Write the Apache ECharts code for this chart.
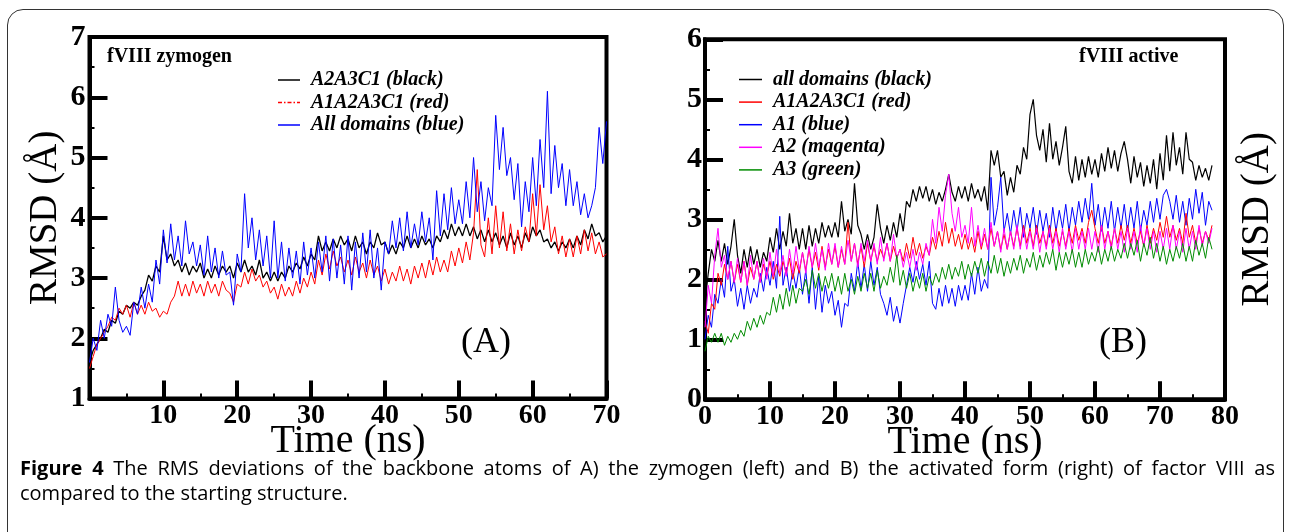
<!DOCTYPE html>
<html>
<head>
<meta charset="utf-8">
<script src="https://cdn.jsdelivr.net/npm/echarts@6/dist/echarts.min.js"></script>
<style>
  body { margin: 0; background: #fff; }
  #wrap { position: relative; width: 1290px; height: 532px; overflow: hidden; background: #fff; }
  #frame { position: absolute; left: 7px; top: 9px; width: 1277px; height: 570px;
           border: 1.5px solid #333; border-radius: 16px; box-sizing: border-box; }
  #chart { position: absolute; left: 0; top: 0; width: 1290px; height: 532px; }
  .cap { position: absolute; left: 20px; width: 1255px; font-family: "Open Sans", sans-serif;
         font-size: 20px; line-height: 25px; color: #000; }
  #cap1 { top: 455px; text-align: justify; text-align-last: justify; }
  #cap2 { top: 480px; }
</style>
</head>
<body>
<div id="wrap">
  <div id="frame"></div>
  <div id="chart"></div>
  <div class="cap" id="cap1"><b>Figure 4</b> The RMS deviations of the backbone atoms of A) the zymogen (left) and B) the activated form (right) of factor VIII as</div>
  <div class="cap" id="cap2">compared to the starting structure.</div>
</div>
<script>
// sampling step of every series (ns)
const stepNs = 0.5;

// ---- panel A : fVIII zymogen, t = 0..70 ns ----
const zymBlack = [
  1.6,1.8,1.9,2.0,2.15,2.1,2.3,2.25,2.45,2.4,
  2.55,2.5,2.6,2.55,2.7,2.8,3.05,2.95,3.2,3.1,
  3.7,3.3,3.4,3.2,3.3,3.1,3.25,3.05,3.2,3.1,
  3.25,3.0,3.15,3.0,3.2,3.05,3.2,3.1,3.2,3.0,
  3.25,3.1,3.3,3.1,3.2,3.05,3.3,3.0,3.1,2.95,
  3.1,2.95,3.1,3.0,3.2,3.1,3.25,3.15,3.35,3.2,
  3.4,3.3,3.7,3.45,3.6,3.45,3.65,3.5,3.7,3.55,
  3.65,3.45,3.7,3.5,3.6,3.4,3.6,3.5,3.75,3.55,
  3.6,3.4,3.55,3.4,3.6,3.5,3.7,3.5,3.65,3.5,
  3.7,3.55,3.65,3.5,3.7,3.6,3.8,3.65,3.9,3.7,
  3.85,3.7,3.9,3.7,3.85,3.65,3.8,3.6,3.8,3.6,
  3.75,3.55,3.7,3.5,3.75,3.55,3.7,3.5,3.75,3.6,
  3.85,3.7,3.8,3.6,3.65,3.5,3.6,3.45,3.6,3.5,
  3.65,3.5,3.7,3.55,3.8,3.65,3.9,3.7,3.75,3.6,
  3.7
];
const zymRed = [
  1.5,1.7,1.9,2.0,2.1,2.2,2.35,2.3,2.5,2.4,
  2.55,2.35,2.6,2.4,2.55,2.4,2.6,2.45,2.5,2.35,
  2.45,2.4,2.6,2.7,2.95,2.7,2.9,2.7,2.95,2.75,
  2.9,2.7,2.95,2.75,2.9,2.7,2.95,2.8,2.75,2.6,
  2.9,2.85,3.1,2.9,3.15,2.95,3.05,2.85,2.95,2.75,
  2.85,2.65,2.9,2.7,2.85,2.7,2.95,2.75,3.0,2.85,
  3.1,2.9,3.3,3.05,3.4,3.15,3.45,3.2,3.35,3.1,
  3.3,3.05,3.35,3.1,3.25,3.0,3.3,3.05,3.2,2.95,
  3.15,2.9,3.1,2.95,3.2,2.95,3.15,2.9,3.2,3.0,
  3.25,3.0,3.3,3.05,3.35,3.1,3.3,3.1,3.45,3.2,
  3.5,3.25,3.6,3.3,3.75,4.8,3.55,3.35,4.0,3.4,
  4.2,3.5,4.1,3.45,3.9,3.4,3.8,3.45,3.85,3.6,
  4.4,3.7,4.55,3.8,4.2,3.6,3.85,3.4,3.7,3.35,
  3.65,3.35,3.7,3.4,3.8,3.45,3.75,3.4,3.6,3.35,
  3.4
];
const zymBlue = [
  1.6,2.0,1.8,2.3,2.0,2.4,2.2,2.85,2.3,2.1,
  2.2,2.05,2.6,2.4,2.85,2.5,2.9,2.6,3.3,2.9,
  3.8,3.25,3.9,3.3,3.7,3.2,3.95,3.4,3.6,3.2,
  3.55,3.05,3.7,3.1,3.5,3.0,3.45,3.05,3.1,2.55,
  3.4,3.1,4.4,3.5,4.0,3.3,3.8,3.2,3.7,3.0,
  3.95,3.0,3.6,2.95,3.5,3.0,3.45,2.9,3.6,3.05,
  3.5,3.0,3.6,3.1,3.7,2.95,3.65,3.0,3.55,2.9,
  3.7,2.8,3.6,3.0,3.75,3.1,3.8,3.0,3.5,2.8,
  3.6,3.4,3.95,3.5,4.0,3.45,4.1,3.5,3.9,3.55,
  4.1,3.6,4.0,3.3,4.45,3.7,4.4,3.8,4.5,3.9,
  4.3,3.9,4.6,4.0,5.0,4.1,4.6,3.95,4.5,4.2,
  5.7,4.8,5.5,4.7,5.0,4.3,4.9,3.85,4.6,4.1,
  5.0,4.2,5.3,4.5,6.1,4.4,5.2,4.5,4.9,4.2,
  4.8,4.2,4.6,4.05,4.4,4.0,4.2,4.5,5.5,4.9,
  5.6
];

// ---- panel B : fVIII active, t = 0..78 ns ----
const actBlack = [
  1.6,2.1,2.5,2.3,2.65,2.3,2.6,2.25,2.55,3.0,
  2.4,2.1,2.5,2.2,2.55,2.25,2.5,2.2,2.45,2.3,
  2.7,2.45,2.85,2.5,2.8,2.55,3.1,2.6,2.85,2.5,
  2.85,2.5,2.9,2.55,2.85,2.6,2.95,2.7,2.9,2.7,
  2.95,2.7,3.3,2.8,3.0,2.75,3.6,2.9,2.75,2.5,
  2.75,2.5,2.7,3.25,2.85,2.6,2.9,2.65,2.95,2.7,
  3.1,2.8,3.3,3.2,3.5,3.3,3.55,3.35,3.55,3.3,
  3.5,3.25,3.45,3.3,3.5,3.75,3.45,3.3,3.55,3.35,
  3.55,3.3,3.6,3.35,3.5,3.3,3.55,3.15,4.15,3.9,
  4.15,3.7,3.8,3.4,3.7,3.45,3.9,3.75,4.2,4.0,
  4.75,5.0,4.4,4.15,4.5,3.95,4.6,4.0,4.3,3.9,
  4.2,4.55,3.8,3.6,4.05,3.65,4.0,3.7,4.05,3.75,
  4.0,3.7,4.1,3.8,4.2,3.85,4.15,3.8,4.1,4.3,
  4.0,3.6,4.05,3.7,3.95,3.55,3.9,3.6,4.0,3.5,
  4.1,3.65,4.4,3.8,4.45,3.9,4.2,3.75,4.45,4.0,
  3.95,3.65,3.9,3.7,3.85,3.65,3.9
];
const actRed = [
  1.3,1.1,1.6,1.5,2.1,1.9,2.25,2.0,2.3,1.95,
  2.25,1.95,2.3,1.9,2.2,2.0,2.3,1.95,2.25,2.05,
  2.3,2.0,2.25,2.05,2.3,2.1,2.35,2.0,2.3,2.1,
  2.45,2.15,2.5,2.2,2.45,2.15,2.55,2.2,2.5,2.25,
  2.55,2.2,2.5,2.25,2.95,2.3,2.6,2.25,2.55,2.2,
  2.6,2.3,2.55,2.3,2.5,2.35,2.6,2.3,2.55,2.35,
  2.5,2.3,2.6,2.35,2.7,2.4,2.6,2.35,2.55,2.4,
  2.7,2.5,2.8,2.55,2.95,2.6,2.85,2.55,2.75,2.5,
  2.75,2.5,2.7,2.45,2.8,2.5,2.75,2.5,2.85,2.55,
  2.8,2.5,2.75,2.5,2.8,2.55,2.85,2.55,2.9,2.6,
  2.85,2.55,2.9,2.6,2.8,2.55,2.9,2.6,2.85,2.55,
  2.8,2.55,2.85,2.6,2.9,2.65,2.85,2.6,2.95,3.15,
  2.85,2.6,2.9,2.6,2.8,2.55,2.85,2.6,2.9,2.65,
  2.9,2.6,2.85,2.6,2.8,2.55,2.9,2.6,2.85,2.65,
  2.95,2.7,3.05,2.7,2.9,2.65,2.85,2.6,3.1,2.7,
  2.9,2.6,2.85,2.6,2.8,2.65,2.9
];
const actA1 = [
  1.0,1.4,1.2,1.75,1.6,2.0,1.7,2.55,1.8,2.0,
  1.55,1.85,1.5,1.9,1.6,1.85,1.7,2.1,1.8,2.2,
  1.9,2.3,1.85,3.05,1.9,2.2,1.8,2.15,1.85,2.2,
  1.75,2.15,1.6,2.2,1.5,2.05,1.45,1.9,1.6,1.8,
  1.4,1.65,1.2,1.6,1.55,2.1,1.8,2.3,1.85,2.25,
  1.8,2.3,1.9,2.2,1.75,1.6,1.4,1.7,1.3,1.55,
  1.27,1.6,1.9,2.2,1.95,2.3,2.0,2.25,1.9,2.3,
  1.6,1.5,1.85,1.55,1.9,1.6,1.85,1.55,1.9,1.65,
  1.9,1.65,2.1,1.75,2.2,1.8,2.0,1.85,3.7,2.9,
  3.2,3.7,2.8,3.1,2.75,3.15,2.8,3.2,2.7,3.1,
  2.85,3.2,2.75,3.15,2.8,3.1,2.7,3.2,2.8,3.15,
  2.85,3.25,2.8,3.2,2.9,3.3,2.95,3.35,3.0,3.6,
  2.9,3.25,2.8,3.2,2.85,3.3,2.8,3.2,2.85,3.25,
  2.8,3.2,2.85,3.3,2.8,3.15,2.9,3.3,2.95,3.35,
  3.0,3.4,3.5,3.3,3.0,3.4,2.95,3.3,2.9,3.35,
  3.0,3.5,3.1,3.45,2.9,3.3,3.15
];
const actA2 = [
  1.2,1.9,1.6,2.4,2.85,2.2,2.4,2.0,2.3,1.95,
  2.35,1.95,2.3,1.9,2.4,2.0,2.3,1.95,2.35,2.0,
  2.45,2.05,2.5,2.1,2.4,2.05,2.5,2.1,2.55,2.15,
  2.45,2.1,2.55,2.2,2.6,2.2,2.5,2.15,2.6,2.25,
  2.6,2.2,2.55,2.25,2.65,2.3,2.6,2.2,2.6,2.3,
  2.65,2.3,2.6,2.25,2.7,2.3,2.6,2.3,2.75,2.35,
  2.5,2.2,2.45,2.2,2.5,2.15,2.45,2.25,2.6,2.4,
  3.0,2.6,3.2,2.8,3.4,3.75,3.1,2.8,3.2,2.7,
  2.9,2.6,3.2,2.55,2.9,2.55,2.85,2.5,2.95,2.55,
  2.8,2.45,2.85,2.5,2.8,2.5,2.9,2.5,2.85,2.5,
  2.8,2.5,2.85,2.45,2.8,2.5,2.85,2.5,2.8,2.45,
  2.85,2.5,2.8,2.45,2.85,2.5,2.8,2.5,2.85,2.5,
  2.8,2.45,2.9,2.5,2.8,2.5,2.85,2.5,2.8,2.45,
  2.85,2.5,2.8,2.45,2.9,2.55,2.85,2.5,2.8,2.45,
  2.8,2.5,2.85,2.5,2.9,2.5,2.8,2.45,2.85,2.5,
  2.8,2.5,2.9,2.55,2.8,2.6,2.85
];
const actA3 = [
  0.8,1.05,0.95,1.1,0.95,1.1,0.9,1.05,0.95,1.1,
  1.0,1.15,1.05,1.3,1.15,1.35,1.2,1.4,1.25,1.45,
  1.4,1.7,1.45,1.75,1.5,1.85,1.55,1.9,1.6,1.85,
  1.8,2.0,1.75,2.15,1.85,2.1,1.8,2.05,1.85,2.1,
  1.8,2.05,1.75,2.1,1.8,2.0,1.75,2.05,1.8,2.1,
  1.85,2.1,1.8,2.15,1.85,2.05,1.9,2.2,1.95,2.4,
  1.9,2.15,1.85,2.1,1.8,2.05,1.85,2.1,1.8,2.05,
  1.9,2.1,1.95,2.2,2.0,2.25,2.0,2.2,2.05,2.3,
  2.0,2.25,2.05,2.3,2.1,2.35,2.05,2.3,2.1,2.4,
  2.1,2.35,2.05,2.3,2.1,2.35,2.15,2.4,2.1,2.35,
  2.2,2.45,2.15,2.4,2.2,2.45,2.25,2.5,2.15,2.45,
  2.2,2.45,2.25,2.5,2.2,2.45,2.2,2.5,2.25,2.45,
  2.3,2.55,2.25,2.5,2.3,2.55,2.3,2.5,2.35,2.6,
  2.35,2.6,2.4,2.65,2.3,2.6,2.4,2.7,2.35,2.6,
  2.3,2.55,2.25,2.5,2.3,2.55,2.35,2.6,2.3,2.55,
  2.3,2.65,2.4,2.6,2.35,2.7,2.5
];

const serif = '"Liberation Serif", "Times New Roman", serif';

// pair each reading with its time
function pairs(values) {
  return values.map((v, i) => [i * stepNs, v]);
}

function line(name, values, color, xi, yi, z, width) {
  return {
    name: name, type: 'line', xAxisIndex: xi, yAxisIndex: yi,
    data: pairs(values), symbol: 'none', z: z,
    lineStyle: { color: color, width: width || 1 }, itemStyle: { color: color },
    animation: false
  };
}

function xAxisOf(grid, max) {
  return {
    gridIndex: grid, type: 'value', min: 0, max: max, interval: 10,
    name: 'Time (ns)', nameLocation: 'middle', nameGap: 23, nameMoveOverlap: false,
    nameTextStyle: { fontFamily: serif, fontSize: 40, color: '#000' },
    axisLine: { lineStyle: { color: '#000', width: 4 } },
    axisTick: { inside: true, length: 18, lineStyle: { width: 4, color: '#000' } },
    minorTick: { show: true, splitNumber: 2, length: 5, lineStyle: { width: 2, color: '#000' } },
    axisLabel: { fontFamily: serif, fontWeight: 'bold', fontSize: 28, color: '#000', margin: 3,
                 showMinLabel: grid === 1 },
    splitLine: { show: false }
  };
}

function yAxisOf(grid, min, max, margin) {
  return {
    gridIndex: grid, type: 'value', min: min, max: max, interval: 1,
    axisLine: { lineStyle: { color: '#000', width: 4 } },
    axisTick: { inside: true, length: 18, lineStyle: { width: 4, color: '#000' } },
    minorTick: { show: true, splitNumber: 2, length: 5, lineStyle: { width: 2, color: '#000' } },
    axisLabel: { fontFamily: serif, fontWeight: 'bold', fontSize: 30, color: '#000', margin: margin },
    splitLine: { show: false }
  };
}

const rmsdName = {
  name: 'RMSD (Å)', nameLocation: 'middle', nameRotate: 90, nameMoveOverlap: false,
  nameTextStyle: { fontFamily: serif, fontSize: 39, color: '#000' }
};

const legendText = { fontFamily: serif, fontStyle: 'italic', fontWeight: 'bold', fontSize: 20,
                     color: '#000', lineHeight: 20, padding: [0, 0, 0, 6] };
// short dash-dot sample used for the red legend entry of panel A
const dashIcon = 'path://M0,0h4v1.5h-4z M6,0h1.5v1.5h-1.5z M9.5,0h4v1.5h-4z M15.5,0h1.5v1.5h-1.5z M19,0h3v1.5h-3z';

const chart = echarts.init(document.getElementById('chart'), null, { renderer: 'canvas' });

const option = {
  animation: false,
  backgroundColor: 'transparent',
  grid: [
    { left: 89.5, top: 37, width: 517, height: 361.6, show: true, borderWidth: 4, borderColor: '#000' },
    { left: 705, top: 39.3, width: 520, height: 360, show: true, borderWidth: 4, borderColor: '#000' }
  ],
  xAxis: [ xAxisOf(0, 70), xAxisOf(1, 80) ],
  yAxis: [
    Object.assign(yAxisOf(0, 1, 7, 4), rmsdName, { nameGap: 24 }),
    yAxisOf(1, 0, 6, 3),
    Object.assign({
      gridIndex: 1, type: 'value', min: 0, max: 6, position: 'right',
      axisLine: { show: false }, axisTick: { show: false }, axisLabel: { show: false },
      splitLine: { show: false }
    }, rmsdName, { nameGap: 13 })
  ],
  legend: [
    {
      left: 273, top: 65, orient: 'vertical', itemGap: 2.5, itemWidth: 22, itemHeight: 1.5,
      icon: 'rect', selectedMode: false, textStyle: legendText,
      data: [
        { name: 'A2A3C1 (black)' },
        { name: 'A1A2A3C1 (red)', icon: dashIcon },
        { name: 'All domains (blue)' }
      ]
    },
    {
      left: 734, top: 64.5, orient: 'vertical', itemGap: 2.6, itemWidth: 23, itemHeight: 1.5,
      icon: 'rect', selectedMode: false, textStyle: legendText,
      data: [
        { name: 'all domains (black)' },
        { name: 'A1A2A3C1 (red)', icon: 'rect' },
        { name: 'A1 (blue)' },
        { name: 'A2 (magenta)' },
        { name: 'A3 (green)' }
      ]
    }
  ],
  graphic: [
    { type: 'text', x: 107, y: 57, style: { text: 'fVIII zymogen', font: 'bold 20px ' + serif,
      fill: '#000', verticalAlign: 'middle' } },
    { type: 'text', x: 1079, y: 57, style: { text: 'fVIII active', font: 'bold 20px ' + serif,
      fill: '#000', verticalAlign: 'middle' } },
    { type: 'text', x: 486, y: 343, style: { text: '(A)', font: '36px ' + serif, fill: '#000',
      align: 'center', verticalAlign: 'middle' } },
    { type: 'text', x: 1123, y: 343, style: { text: '(B)', font: '36px ' + serif, fill: '#000',
      align: 'center', verticalAlign: 'middle' } }
  ],
  series: [
    line('A2A3C1 (black)', zymBlack, '#000000', 0, 0, 2, 1.3),
    line('A1A2A3C1 (red)', zymRed, '#ff0000', 0, 0, 3),
    line('All domains (blue)', zymBlue, '#0000ff', 0, 0, 4),
    line('all domains (black)', actBlack, '#000000', 1, 1, 2, 1.2),
    line('A1 (blue)', actA1, '#0000ff', 1, 1, 3),
    line('A1A2A3C1 (red)', actRed, '#ff0000', 1, 1, 4),
    line('A2 (magenta)', actA2, '#ff00ff', 1, 1, 5),
    line('A3 (green)', actA3, '#008c00', 1, 1, 6)
  ]
};

chart.setOption(option);
</script>
</body>
</html>
